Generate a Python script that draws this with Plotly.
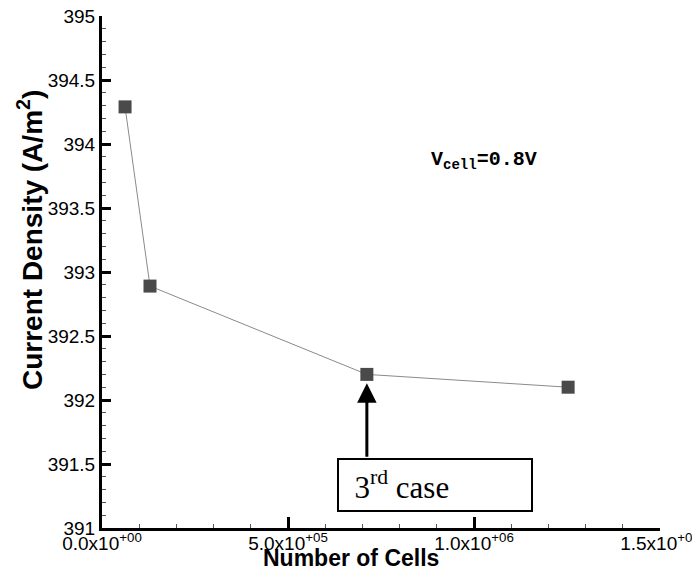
import plotly.graph_objects as go

# Data
cells = [62000, 129000, 712000, 1253000]
current_density = [394.29, 392.89, 392.2, 392.1]

x_tickvals = [0, 500000, 1000000, 1500000]
x_ticktext = ["0.0x10<sup>+00</sup>", "5.0x10<sup>+05</sup>",
              "1.0x10<sup>+06</sup>", "1.5x10<sup>+06</sup>"]
y_tickvals = [391, 391.5, 392, 392.5, 393, 393.5, 394, 394.5, 395]
y_ticktext = ["391", "391.5", "392", "392.5", "393", "393.5", "394", "394.5", "395"]

# Figure geometry (page body has an 8px margin)
OFF = 8
W, H = 692, 570
L, R, T, B = 94, 40, 8, 50
pw, ph = W - L - R, H - T - B


def px(sx):
    return (sx - OFF - L) / pw


def py(sy):
    return (H - (sy - OFF) - B) / ph


fig = go.Figure()
fig.add_trace(go.Scatter(
    x=cells, y=current_density, mode="lines+markers",
    line=dict(color="#8a8a8a", width=1),
    marker=dict(symbol="square", size=13, color="#4a4a4a",
                line=dict(width=0)),
    showlegend=False,
))

axis_font = dict(family="Liberation Sans, Arial", size=19, color="black")

fig.update_xaxes(
    range=[0, 1500000], tickvals=x_tickvals, ticktext=x_ticktext,
    ticks="inside", ticklen=11, tickwidth=3, tickcolor="black",
    showline=True, linecolor="black", linewidth=3, mirror=False,
    showgrid=False, zeroline=False, tickfont=axis_font, automargin=False,
    ticklabeloverflow="allow", ticklabelstandoff=-4,
    minor=dict(dtick=100000, ticks="inside", ticklen=4, tickwidth=1,
               tickcolor="#555", showgrid=False),
)
fig.update_yaxes(
    range=[391, 395], tickvals=y_tickvals, ticktext=y_ticktext,
    ticks="inside", ticklen=9, tickwidth=3, tickcolor="black",
    showline=True, linecolor="black", linewidth=3, mirror=False,
    showgrid=False, zeroline=False, tickfont=axis_font, automargin=False,
    ticklabeloverflow="allow",
    minor=dict(dtick=0.1, ticks="inside", ticklen=4, tickwidth=1,
               tickcolor="#555", showgrid=False),
)

# Axis titles (placed as in the reference)
fig.add_annotation(
    x=px(351), y=py(558), xref="paper", yref="paper", showarrow=False,
    xanchor="center", yanchor="middle",
    text="<b>Number of Cells</b>",
    font=dict(family="Liberation Sans, Arial", size=23, color="black"),
)
fig.add_annotation(
    x=px(30), y=py(240), xref="paper", yref="paper", showarrow=False,
    xanchor="center", yanchor="middle",
    text="<b>Current Density (A/m<sup>2</sup>)</b>", textangle=-90,
    font=dict(family="Liberation Sans, Arial", size=28, color="black"),
)

# V_cell label
fig.add_annotation(
    x=1027000, y=393.875, xref="x", yref="y", showarrow=False,
    text="<b>V<sub>cell</sub>=0.8V</b>",
    font=dict(family="Liberation Mono, Courier New", size=20, color="black"),
)

# Arrow pointing at the 3rd case
fig.add_annotation(
    x=cells[2], y=392.13, xref="x", yref="y", text="",
    showarrow=True, arrowhead=2, arrowsize=1.3, arrowwidth=3,
    arrowcolor="black", ax=0, ay=75, axref="pixel", ayref="pixel",
)

# 3rd case box
fig.add_annotation(
    x=895000, y=391.336, xref="x", yref="y", showarrow=False,
    text="&nbsp;&nbsp;3<sup>rd</sup> case", align="left",
    width=192, height=50, borderpad=0,
    bordercolor="black", borderwidth=2, bgcolor="white",
    font=dict(family="Liberation Serif, Times New Roman", size=31, color="black"),
)

fig.update_layout(
    width=W, height=H,
    margin=dict(l=L, r=R, t=T, b=B),
    plot_bgcolor="white", paper_bgcolor="white",
)

fig.write_html("out.html")
